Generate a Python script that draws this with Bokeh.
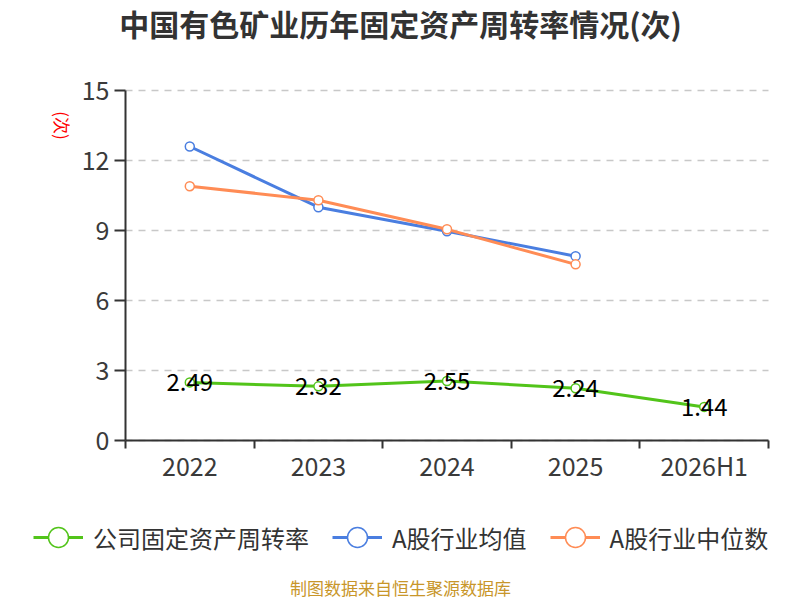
import math
from bokeh.plotting import figure
from bokeh.models import (Range1d, FixedTicker, Label, Legend, LegendItem,
                          ColumnDataSource, LabelSet)
from bokeh.core.properties import value
from bokeh.embed import file_html
from bokeh.resources import INLINE

categories = ["2022", "2023", "2024", "2025", "2026H1"]
company = [2.49, 2.32, 2.55, 2.24, 1.44]
ind_mean = [12.6, 10.0, 8.97, 7.9]
ind_median = [10.9, 10.3, 9.05, 7.55]
y_ticks = [0, 3, 6, 9, 12, 15]

title_text = "中国有色矿业历年固定资产周转率情况(次)"
unit_text = "(次)"
source_text = "制图数据来自恒生聚源数据库"
names = ["公司固定资产周转率", "A股行业均值", "A股行业中位数"]
colors = ["#52c41a", "#4a7ee0", "#ff8c55"]

FONT = "Noto Sans CJK SC"

W, H = 800, 600
# plot area in page pixels
PL, PR, PT, PB = 125, 768, 90, 440
n = len(categories)
ymax = y_ticks[-1]
kx = (PR - PL) / n
ky = (PB - PT) / ymax

xs = [i + 0.5 for i in range(n)]

p = figure(width=W, height=H, output_backend="svg", toolbar_location=None,
           x_range=Range1d(-PL / kx, n + (W - PR) / kx),
           y_range=Range1d(-(H - PB) / ky, ymax + PT / ky),
           min_border=0)
p.title.visible = False
p.outline_line_color = None
p.background_fill_color = "white"
p.border_fill_color = "white"

# x axis
p.xaxis.fixed_location = 0
p.xaxis.bounds = (0, n)
p.xaxis.ticker = FixedTicker(ticks=xs, minor_ticks=list(range(n + 1)))
p.xaxis.major_label_overrides = {x: c for x, c in zip(xs, categories)}
p.xaxis.major_tick_line_color = None
p.xaxis.minor_tick_line_color = "#333333"
p.xaxis.minor_tick_line_width = 2
p.xaxis.minor_tick_out = 8
p.xaxis.minor_tick_in = 0
p.xaxis.axis_line_color = "#333333"
p.xaxis.axis_line_width = 2
p.xaxis.major_label_text_font = FONT
p.xaxis.major_label_text_font_size = "25px"
p.xaxis.major_label_text_color = "#3a3a3a"
p.xaxis.major_label_standoff = -2

# y axis
p.yaxis.fixed_location = 0
p.yaxis.bounds = (0, ymax)
p.yaxis.ticker = FixedTicker(ticks=y_ticks)
p.yaxis.minor_tick_line_color = None
p.yaxis.major_tick_line_color = "#333333"
p.yaxis.major_tick_line_width = 2
p.yaxis.major_tick_out = 11
p.yaxis.major_tick_in = 0
p.yaxis.axis_line_color = "#333333"
p.yaxis.axis_line_width = 2
p.yaxis.major_label_text_font = FONT
p.yaxis.major_label_text_font_size = "25px"
p.yaxis.major_label_text_color = "#3a3a3a"
p.yaxis.major_label_standoff = 5

p.xgrid.grid_line_color = None
p.ygrid.bounds = (1, ymax)
p.ygrid.cross_bounds = (0, n)
p.ygrid.grid_line_color = "#c8c8c8"
p.ygrid.grid_line_dash = "7 6"
p.ygrid.grid_line_width = 1.5

# series
series = [company, ind_mean, ind_median]
items = []
for name, vals, col in zip(names, series, colors):
    src = ColumnDataSource(dict(x=xs[:len(vals)], y=vals))
    ln = p.line("x", "y", source=src, line_color=col, line_width=3)
    sc = p.scatter("x", "y", source=src, size=9, marker="circle",
                   line_color=col, line_width=1.5, fill_color="white")
    items.append(LegendItem(label=name, renderers=[ln, sc]))

lab_src = ColumnDataSource(dict(x=xs, y=company, t=[f"{v:.2f}" for v in company]))
p.add_layout(LabelSet(x="x", y="y", text="t", source=lab_src,
                      text_align="center", text_baseline="middle",
                      text_font=value(FONT), text_font_size="24px",
                      text_color="#000000"))

legend = Legend(items=items, orientation="horizontal", location=(33, 38),
                glyph_width=50, glyph_height=50, label_standoff=10, spacing=23,
                label_text_font=FONT, label_text_font_size="24px",
                label_text_color="#333333", border_line_color=None,
                background_fill_alpha=0, padding=0, margin=0)
p.add_layout(legend, "center")

p.add_layout(Label(x=W / 2, y=H - 22, x_units="screen", y_units="screen",
                   text=title_text, text_align="center", text_baseline="middle",
                   text_font=FONT, text_font_size="30px", text_font_style="bold",
                   text_color="#333333"))
p.add_layout(Label(x=62, y=H - 125, x_units="screen", y_units="screen",
                   text=unit_text, angle=-math.pi / 2, text_align="center",
                   text_baseline="middle", text_font=FONT,
                   text_font_size="17px", text_color="#ff0000"))
p.add_layout(Label(x=W / 2, y=H - 587, x_units="screen", y_units="screen",
                   text=source_text, text_align="center", text_baseline="middle",
                   text_font=FONT, text_font_size="17px",
                   text_color="#c8962a"))

open("out.html", "w").write(file_html(p, INLINE))
